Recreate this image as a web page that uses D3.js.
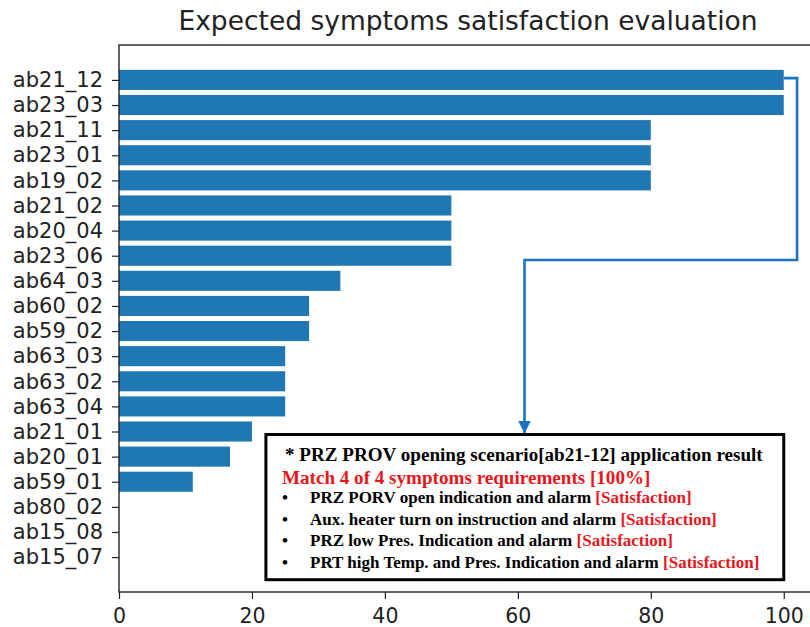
<!DOCTYPE html>
<html>
<head>
<meta charset="utf-8">
<script src="https://cdn.jsdelivr.net/npm/d3@7"></script>
<style>
  html, body { margin: 0; padding: 0; background: #fff; }
  svg { display: block; }
  .tick text { font-family: "DejaVu Sans", sans-serif; }
</style>
</head>
<body>
<svg id="chart" width="810" height="627"></svg>
<script>
// Scenario codes, top to bottom
const scenarios = [
  "ab21_12", "ab23_03", "ab21_11", "ab23_01", "ab19_02",
  "ab21_02", "ab20_04", "ab23_06", "ab64_03", "ab60_02",
  "ab59_02", "ab63_03", "ab63_02", "ab63_04", "ab21_01",
  "ab20_01", "ab59_01", "ab80_02", "ab15_08", "ab15_07"
];
// Share of expected symptoms satisfied (%)
const satisfaction = [
  100, 100, 80, 80, 80,
  50, 50, 50, 33.3, 28.6,
  28.6, 25, 25, 25, 20,
  16.7, 11.1, 0, 0, 0
];
const xTicks = [0, 20, 40, 60, 80, 100];

// Call-out text for the top scenario
const noteTitle = "* PRZ PROV opening scenario[ab21-12] application result";
const noteMatch = "Match 4 of 4 symptoms requirements [100%]";
const noteItems = [
  "PRZ PORV open indication and alarm",
  "Aux. heater turn on instruction and alarm",
  "PRZ low Pres. Indication and alarm",
  "PRT high Temp. and Pres. Indication and alarm"
];
const noteStatus = "[Satisfaction]";

const svg = d3.select("#chart");
const plotL = 119, plotR = 817, plotT = 45, plotB = 592;

const x = d3.scaleLinear().domain([0, 105]).range([plotL, plotR]);
const n = scenarios.length;
const y = d3.scaleLinear().domain([-1.39, n - 1 + 1.39]).range([plotT, plotB]);
const barH = y(0.4) - y(-0.4);

// Bars
svg.append("g").selectAll("rect")
  .data(satisfaction)
  .join("rect")
  .attr("x", x(0))
  .attr("y", (d, i) => y(i) - barH / 2)
  .attr("width", d => x(d) - x(0))
  .attr("height", barH)
  .attr("fill", "#1f77b4");

// Axes
const yAxis = d3.axisLeft(y)
  .tickValues(d3.range(n))
  .tickFormat(i => scenarios[i])
  .tickSize(7).tickPadding(9);
const gy = svg.append("g").attr("transform", `translate(${plotL},0)`).call(yAxis);
gy.select(".domain").remove();
gy.selectAll("text").attr("font-size", 21).attr("fill", "#222");
gy.selectAll("line").attr("stroke", "#222").attr("stroke-width", 1.2);

const xAxis = d3.axisBottom(x).tickValues(xTicks).tickSize(7).tickPadding(9);
const gx = svg.append("g").attr("transform", `translate(0,${plotB})`).call(xAxis);
gx.select(".domain").remove();
gx.selectAll("text").attr("font-size", 20.5).attr("fill", "#222");
gx.selectAll("line").attr("stroke", "#222").attr("stroke-width", 1.2);

// Frame
svg.append("rect")
  .attr("x", plotL).attr("y", plotT)
  .attr("width", plotR - plotL).attr("height", plotB - plotT)
  .attr("fill", "none").attr("stroke", "#222").attr("stroke-width", 1.4);

// Title
svg.append("text")
  .attr("x", (plotL + plotR) / 2).attr("y", 30)
  .attr("text-anchor", "middle")
  .attr("font-family", "DejaVu Sans, sans-serif")
  .attr("font-size", 26.5).attr("fill", "#222")
  .text("Expected symptoms satisfaction evaluation");

// Elbow connector from the top bar to the call-out box
const lineColor = "#1a72c2";
svg.append("defs").append("marker")
  .attr("id", "arrow").attr("viewBox", "0 0 10 10")
  .attr("refX", 10).attr("refY", 5)
  .attr("markerWidth", 5).attr("markerHeight", 5)
  .attr("markerUnits", "strokeWidth")
  .attr("orient", "auto")
  .append("path").attr("d", "M0,0 L10,5 L0,10 Z").attr("fill", lineColor);

const boxX0 = x(22.1), boxX1 = x(100), boxY0 = y(14.12), boxY1 = y(19.9);
const elbowX = x(102), turnY = y(7.17), dropX = x(61);
svg.append("path")
  .attr("d", `M${x(100)},${y(-0.07)} H${elbowX} V${turnY} H${dropX} V${boxY0 - 1}`)
  .attr("fill", "none")
  .attr("stroke", lineColor).attr("stroke-width", 2.6)
  .attr("marker-end", "url(#arrow)");

// Call-out box
svg.append("rect")
  .attr("x", boxX0).attr("y", boxY0)
  .attr("width", boxX1 - boxX0).attr("height", boxY1 - boxY0)
  .attr("fill", "#fff").attr("stroke", "#000").attr("stroke-width", 3);

const serif = "Liberation Serif, Times New Roman, serif";
svg.append("text")
  .attr("x", 285).attr("y", 461)
  .attr("font-family", serif).attr("font-weight", "bold")
  .attr("font-size", 19.1).attr("fill", "#000")
  .text(noteTitle);
svg.append("text")
  .attr("x", 282).attr("y", 484)
  .attr("font-family", serif).attr("font-weight", "bold")
  .attr("font-size", 19.1).attr("fill", "#e8161b")
  .text(noteMatch);

const items = svg.append("g").selectAll("g")
  .data(noteItems)
  .join("g")
  .attr("transform", (d, i) => `translate(0,${503 + i * 21.7})`);
items.append("text")
  .attr("x", 282)
  .attr("font-family", serif).attr("font-weight", "bold")
  .attr("font-size", 17).attr("fill", "#000")
  .text("\u2022");
const itemText = items.append("text")
  .attr("x", 310)
  .attr("font-family", serif).attr("font-weight", "bold")
  .attr("font-size", 17).attr("fill", "#000");
itemText.append("tspan").text(d => d + " ");
itemText.append("tspan").attr("fill", "#e8161b").text(noteStatus);
</script>
</body>
</html>
